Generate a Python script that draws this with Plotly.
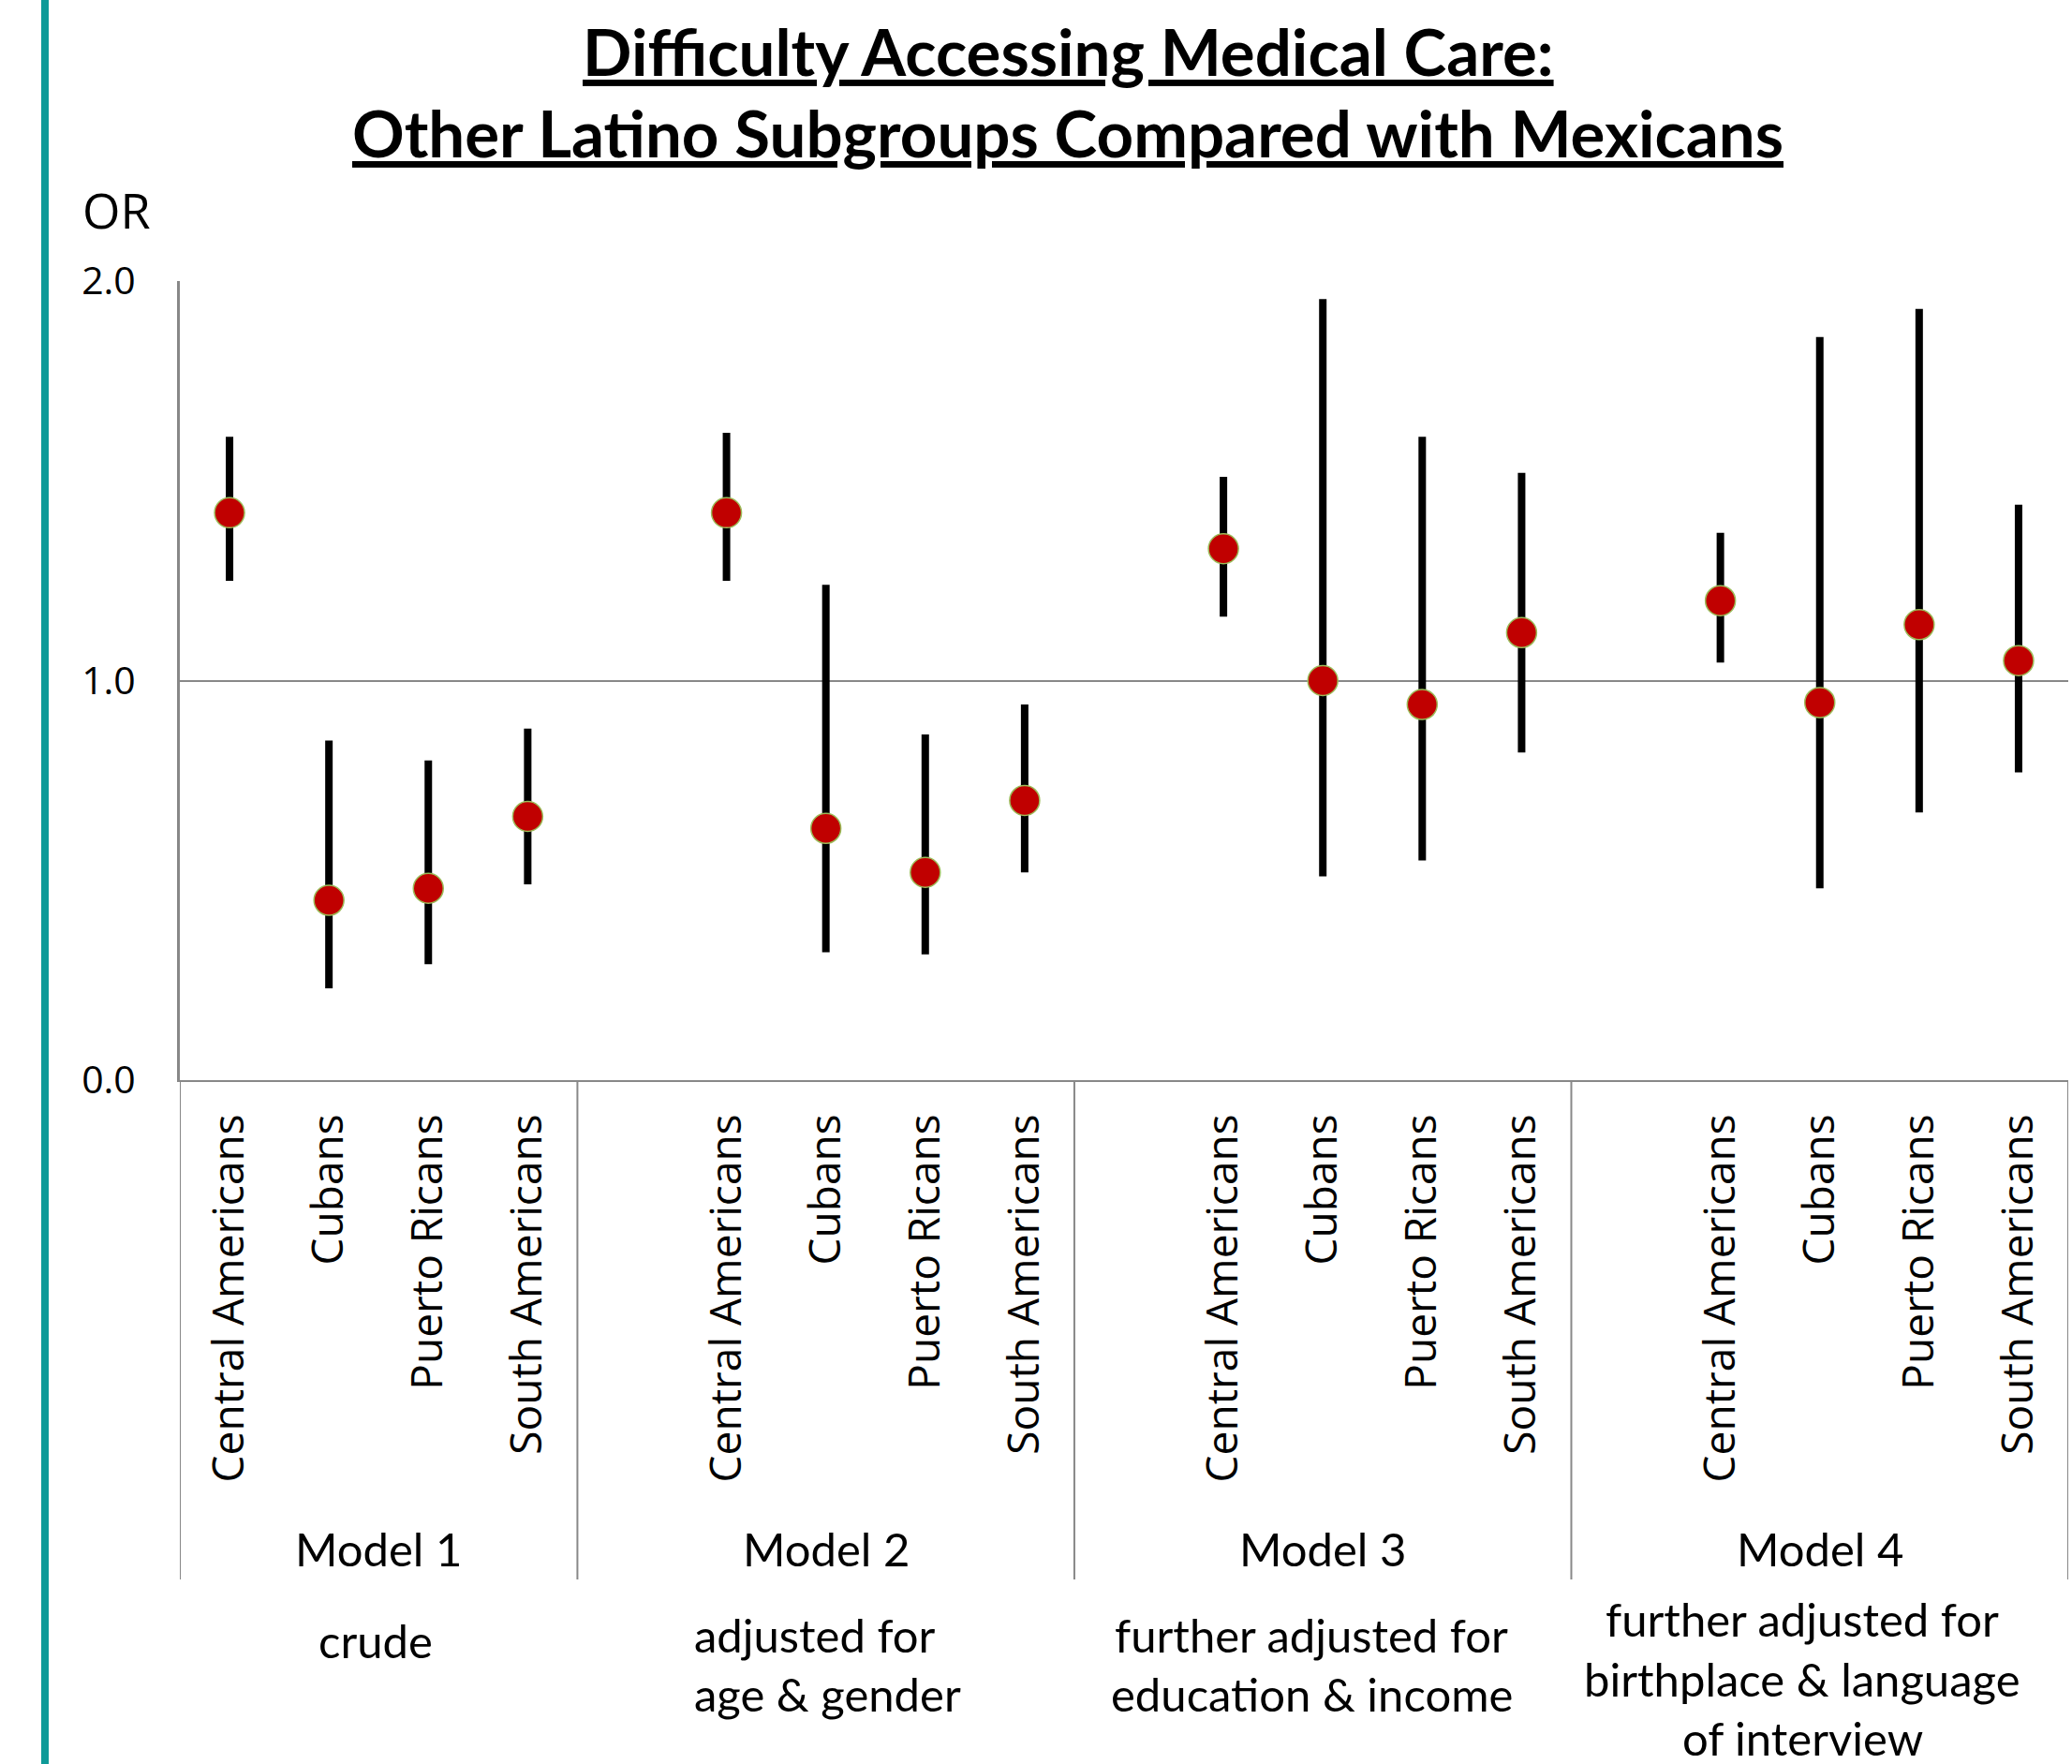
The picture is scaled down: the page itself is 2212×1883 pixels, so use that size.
import plotly.graph_objects as go

# Odds ratios (OR) with 95% confidence limits, by model and subgroup
subgroups = ["Central Americans", "Cubans", "Puerto Ricans", "South Americans"]
models = ["Model 1", "Model 2", "Model 3", "Model 4"]

model1_or = [1.42, 0.45, 0.48, 0.66]
model1_lo = [1.25, 0.23, 0.29, 0.49]
model1_hi = [1.61, 0.85, 0.80, 0.88]

model2_or = [1.42, 0.63, 0.52, 0.70]
model2_lo = [1.25, 0.32, 0.315, 0.52]
model2_hi = [1.62, 1.24, 0.865, 0.94]

model3_or = [1.33, 1.00, 0.94, 1.12]
model3_lo = [1.16, 0.51, 0.55, 0.82]
model3_hi = [1.51, 1.955, 1.61, 1.52]

model4_or = [1.20, 0.945, 1.14, 1.05]
model4_lo = [1.045, 0.48, 0.67, 0.77]
model4_hi = [1.37, 1.86, 1.93, 1.44]

descriptions = [
    ["crude"],
    ["adjusted for", "age & gender"],
    ["further adjusted for", "education & income"],
    ["further adjusted for", "birthplace & language", "of interview"],
]

y_ticks = [0.0, 1.0, 2.0]
y_ticktext = ["0.0", "1.0", "2.0"]

ors = [model1_or, model2_or, model3_or, model4_or]
los = [model1_lo, model2_lo, model3_lo, model4_lo]
his = [model1_hi, model2_hi, model3_hi, model4_hi]

# Category rows: one blank row separates consecutive models
cat_labels = []
cat_model = []
xs, ys, lo_all, hi_all = [], [], [], []
for m, name in enumerate(models):
    if m > 0:
        cat_labels.append("")
        cat_model.append(m)
    for j, sg in enumerate(subgroups):
        xs.append(len(cat_labels))
        ys.append(ors[m][j])
        lo_all.append(los[m][j])
        hi_all.append(his[m][j])
        cat_labels.append(sg)
        cat_model.append(m)

n_slots = len(cat_labels)
slot_idx = list(range(n_slots))

W, H = 2212, 1883
ML, MR, MT, MB = 192, 4, 300, 730
PW = W - ML - MR
PH = H - MT - MB


def py(Y):
    """pixel row -> paper y"""
    return (H - MB - Y) / PH


def px(X):
    """pixel column -> paper x"""
    return (X - ML) / PW


GRID = "#888888"
CAL = "Lato"
SEG = "Open Sans"

fig = go.Figure()
fig.add_trace(go.Scatter(
    x=xs, y=ys, mode="markers",
    marker=dict(size=32, color="#C00000", line=dict(color="#9BBB59", width=1.5)),
    error_y=dict(type="data", symmetric=False,
                 array=[h - v for h, v in zip(hi_all, ys)],
                 arrayminus=[v - l for v, l in zip(ys, lo_all)],
                 color="black", thickness=8, width=0),
    showlegend=False, hoverinfo="skip",
))

shapes = []
# Model group separators below the axis
bounds = []
for m in range(len(models)):
    idx = [i for i, mm in enumerate(cat_model) if mm == m]
    bounds.append((idx[0] - 0.5, idx[-1] + 0.5))
edges = sorted(set([b[0] for b in bounds] + [b[1] for b in bounds]))
for e in edges:
    shapes.append(dict(type="line", xref="x", yref="paper", x0=e, x1=e,
                       y0=0, y1=py(1686), line=dict(color=GRID, width=2)))
# Teal accent bar on the left edge
shapes.append(dict(type="line", xref="paper", yref="paper", x0=px(48), x1=px(48),
                   y0=py(0), y1=py(H), line=dict(color="#0E9A98", width=8)))

annotations = []
# Title (two underlined bold lines)
annotations.append(dict(xref="paper", yref="paper", x=px(1140), y=py(54),
                        text="<b><u>Difficulty Accessing Medical Care:</u></b>",
                        showarrow=False, xanchor="center", yanchor="middle",
                        font=dict(family=CAL, size=69, color="black")))
annotations.append(dict(xref="paper", yref="paper", x=px(1140), y=py(141),
                        text="<b><u>Other Latino Subgroups Compared with Mexicans</u></b>",
                        showarrow=False, xanchor="center", yanchor="middle",
                        font=dict(family=CAL, size=69, color="black")))
# Y axis caption
annotations.append(dict(xref="paper", yref="paper", x=px(86), y=py(224),
                        text="OR", showarrow=False, xanchor="left", yanchor="middle",
                        font=dict(family=SEG, size=52, color="black")))

# Model labels and their adjustment descriptions
desc_rows = [[1751], [1745, 1808], [1745, 1808], [1728, 1792, 1855]]
for m, name in enumerate(models):
    x0, x1 = bounds[m]
    xc = (x0 + x1) / 2
    annotations.append(dict(xref="x", yref="paper", x=xc, y=py(1653), text=name,
                            showarrow=False, xanchor="center", yanchor="middle",
                            font=dict(family=CAL, size=49, color="black")))
    for line, Y in zip(descriptions[m], desc_rows[m]):
        if m == 1:
            annotations.append(dict(xref="paper", yref="paper", x=px(739), y=py(Y),
                                    text=line, showarrow=False, xanchor="left",
                                    yanchor="middle",
                                    font=dict(family=CAL, size=49, color="black")))
        else:
            xcd = {0: 401, 2: 1400, 3: 1924}[m]
            annotations.append(dict(xref="paper", yref="paper", x=px(xcd), y=py(Y),
                                    text=line, showarrow=False, xanchor="center",
                                    yanchor="middle",
                                    font=dict(family=CAL, size=49, color="black")))

fig.update_layout(
    width=W, height=H, autosize=False,
    margin=dict(l=ML, r=MR, t=MT, b=MB, pad=0),
    paper_bgcolor="white", plot_bgcolor="white",
    shapes=shapes, annotations=annotations,
    xaxis=dict(range=[-0.5, n_slots - 0.5], tickmode="array", tickvals=slot_idx,
               ticktext=cat_labels, tickangle=-90, ticks="", showgrid=False,
               zeroline=False, showline=True, linecolor=GRID, linewidth=2,
               ticklabelstandoff=16,
               tickfont=dict(family=SEG, size=46, color="black")),
    yaxis=dict(range=[0, 2], tickmode="array", tickvals=y_ticks, ticktext=y_ticktext,
               showgrid=True, gridcolor=GRID, gridwidth=2, zeroline=False,
               showline=True, linecolor=GRID, linewidth=3, ticks="",
               ticklabelstandoff=36,
               tickfont=dict(family=SEG, size=41, color="black")),
)

fig.write_html("out.html")
